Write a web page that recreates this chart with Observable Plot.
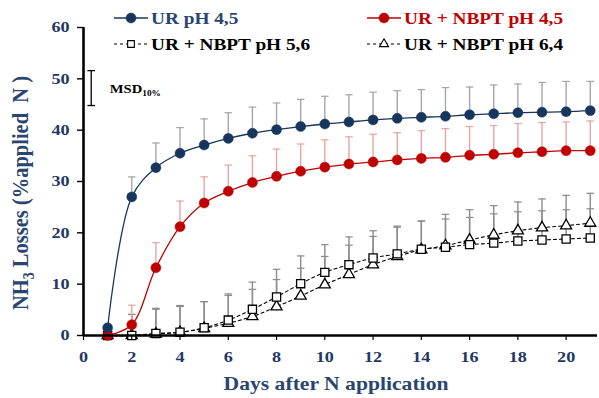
<!DOCTYPE html>
<html><head><meta charset="utf-8">
<script src="https://cdn.jsdelivr.net/npm/d3@7"></script>
<script src="https://cdn.jsdelivr.net/npm/@observablehq/plot@0.6"></script>
<style>
body{margin:0;background:#fff}
#chart{width:599px;height:398px;overflow:hidden}
</style>
</head><body><div id="chart"></div>
<script>
// ---- data ----
const days = [1,2,3,4,5,6,7,8,9,10,11,12,13,14,15,16,17,18,19,20,21];
const urPH45     = [1.5,27.0,32.7,35.5,37.1,38.4,39.4,40.1,40.7,41.2,41.6,42.0,42.3,42.5,42.7,43.0,43.2,43.4,43.5,43.6,43.8];
const urPH45Err  = [0,3.9,4.8,5.0,5.1,5.0,5.1,5.2,5.3,5.4,5.3,5.4,5.4,5.4,5.6,5.4,5.6,5.6,5.8,5.9,5.7];
const nbptPH45   = [0,2.1,13.2,21.2,25.8,28.1,29.8,31.0,32.0,32.8,33.4,33.8,34.2,34.5,34.7,35.1,35.3,35.6,35.8,36.0,36.0];
const nbptPH45Err= [0,3.8,4.9,5.0,5.1,5.1,5.2,5.3,5.3,5.3,5.3,5.4,5.3,5.4,5.6,5.6,5.6,5.7,5.7,5.6,5.8];
const nbptPH56   = [0,0,0.4,0.65,1.5,3.0,5.1,7.5,10.1,12.3,13.8,15.1,15.9,16.8,17.2,17.7,18.0,18.4,18.6,18.8,19.0];
const nbptPH56Err= [0,4.1,4.9,5.2,5.1,5.1,5.3,5.4,5.4,5.4,5.4,5.3,5.2,5.5,5.5,5.3,5.7,5.7,5.7,5.7,5.7];
const nbptPH64   = [0,0,0.3,0.6,1.4,2.4,3.7,5.6,7.7,9.9,11.9,13.8,15.4,16.7,17.5,18.6,19.6,20.4,21.0,21.4,21.9];
const nbptPH64Err= [0,4.1,4.8,5.05,5.2,5.4,5.3,5.3,5.4,5.5,5.7,5.5,5.9,5.6,6.1,5.9,5.7,5.6,5.6,5.9,5.8];
const seriesNames = ["UR pH 4,5","UR + NBPT pH 4,5","UR + NBPT pH 5,6","UR + NBPT pH 6,4"];
const xTicks = [0,2,4,6,8,10,12,14,16,18,20];
const yTicks = [0,10,20,30,40,50,60];
const msd = [{x: 0.32, lo: 44.8, hi: 51.6}];
const xTitle = "Days after N application";

// ---- styling ----
const NAVY = "#17365d", RED = "#c00000", TXT = "#1f3864", TITLE = "#2a4670";
const STRETCH = 1.17; // reference glyphs are horizontally wide
const series = [
  {name: seriesNames[0], v: urPH45, e: urPH45Err, color: NAVY, symbol: "circle", fill: NAVY, r: 5, dash: null, err: "#a6a6a6", text: "#2a4670"},
  {name: seriesNames[1], v: nbptPH45, e: nbptPH45Err, color: RED, symbol: "circle", fill: RED, r: 5, dash: null, err: "#eaa3a3", text: RED},
  {name: seriesNames[2], v: nbptPH56, e: nbptPH56Err, color: "#000", symbol: "square", fill: "#fff", r: 4.6, dash: "3,3", err: "#8c8c8c", text: "#000"},
  {name: seriesNames[3], v: nbptPH64, e: nbptPH64Err, color: "#000", symbol: "triangle", fill: "#fff", r: 4.1, dash: "3,3", err: "#8c8c8c", text: "#000"}
];
series.forEach(s => s.rows = days.map((d, i) => ({day: d, value: s.v[i], err: s.e[i]})));

const cap = {draw(ctx) { ctx.moveTo(-3.8, 0); ctx.lineTo(3.8, 0); }};

const marks = [];
for (const s of series.slice().reverse()) {
  const er = s.rows.filter(d => d.err > 0);
  marks.push(Plot.ruleX(er, {x: "day", y1: "value", y2: d => d.value + d.err, stroke: s.err, strokeWidth: 1.4}));
  marks.push(Plot.dot(er, {x: "day", y: d => d.value + d.err, symbol: cap, fill: "none", stroke: s.err, strokeWidth: 1.2}));
}
marks.push(Plot.ruleX(msd, {x: "x", y1: "lo", y2: "hi", stroke: "#000", strokeWidth: 1.3}));
marks.push(Plot.dot(msd, {x: "x", y: "lo", symbol: cap, fill: "none", stroke: "#000", strokeWidth: 1.3}));
marks.push(Plot.dot(msd, {x: "x", y: "hi", symbol: cap, fill: "none", stroke: "#000", strokeWidth: 1.3}));
for (const s of series) {
  marks.push(Plot.line(s.rows, {x: "day", y: "value", stroke: s.color, strokeWidth: s.dash ? 1.1 : 1.3, strokeDasharray: s.dash, curve: "catmull-rom"}));
}
for (const s of series.slice().reverse()) {
  marks.push(Plot.dot(s.rows, {x: "day", y: "value", symbol: s.symbol, r: s.r, fill: s.fill, stroke: s.dash ? "#000" : s.fill, strokeWidth: s.dash ? 1.3 : 0.5}));
}
marks.push(Plot.axisY({ticks: yTicks, tickSize: 6, tickPadding: 8, label: null, stroke: "#000", fill: TXT, strokeWidth: 1.4}));
marks.push(Plot.axisX({ticks: xTicks, tickSize: 5, tickPadding: 10, label: null, stroke: "#000", fill: TXT, strokeWidth: 1.2}));
marks.push(Plot.ruleX([0], {stroke: "#000", strokeWidth: 2.6}));
marks.push(Plot.ruleY([0], {stroke: "#000", strokeWidth: 2.6}));

const plot = Plot.plot({
  width: 599, height: 398,
  marginLeft: 83, marginRight: 2, marginTop: 27, marginBottom: 63,
  x: {domain: [0, 21.3]},
  y: {domain: [0, 60]},
  style: {fontFamily: "'Liberation Serif', 'Times New Roman', serif", fontSize: "15.5px", fontWeight: "bold", background: "#fff", overflow: "visible"},
  marks
});
document.getElementById("chart").appendChild(plot);

const svg = d3.select(plot);
// widen axis tick labels horizontally (reference glyphs are wide)
svg.selectAll("text").each(function () {
  const w = this.getComputedTextLength();
  if (w > 0) { this.setAttribute("textLength", w * STRETCH); this.setAttribute("lengthAdjust", "spacingAndGlyphs"); }
});

const F = "'Liberation Serif', 'Times New Roman', serif";
function label(x, y, size, fill, extra = "") {
  return svg.append("text").attr("transform", `translate(${x},${y}) ${extra} scale(${STRETCH},1)`)
    .attr("text-anchor", "start").attr("font-family", F).attr("font-weight", "bold")
    .attr("font-size", size).attr("fill", fill);
}
// axis titles
label(336, 390, 18.5, TITLE).attr("text-anchor", "middle").text(xTitle);
const yt = svg.append("text").attr("transform", `translate(28,193) rotate(-90) scale(1,${STRETCH})`).attr("text-anchor", "middle")
  .attr("font-family", F).attr("font-weight", "bold").attr("font-size", 20.5).attr("fill", TITLE);
yt.append("tspan").text("NH");
yt.append("tspan").attr("font-size", 14).attr("dy", 5).text("3");
yt.append("tspan").attr("dy", -5).text(" Losses (%applied\u00a0 N )");

// MSD label
const sx = plot.scale("x"), sy = plot.scale("y");
const mt = label(sx.apply(msd[0].x) + 19, sy.apply((msd[0].lo + msd[0].hi) / 2) + 5, 12.5, "#000");
mt.append("tspan").text("MSD");
mt.append("tspan").attr("font-size", 8).attr("dy", 3).text("10%");

// legend
const legPos = [[114, 18], [367, 18], [114, 44], [367, 44]];
series.forEach((s, i) => {
  const [lx, ly] = legPos[i];
  const g = svg.append("g");
  g.append("line").attr("x1", lx).attr("x2", lx + 34).attr("y1", ly).attr("y2", ly)
    .attr("stroke", s.color).attr("stroke-width", s.dash ? 1.1 : 1.3).attr("stroke-dasharray", s.dash);
  const sym = {circle: d3.symbolCircle, square: d3.symbolSquare, triangle: d3.symbolTriangle}[s.symbol];
  g.append("path").attr("transform", `translate(${lx + 17},${ly})`)
    .attr("d", d3.symbol(sym, Math.PI * (s.dash ? s.r * 0.82 : s.r) ** 2)())
    .attr("fill", s.fill).attr("stroke", s.dash ? "#000" : s.fill).attr("stroke-width", s.dash ? 1.1 : 0.5);
  label(lx + 37, ly + 6, 16.5, s.text).text(s.name);
});
</script>
</body></html>
